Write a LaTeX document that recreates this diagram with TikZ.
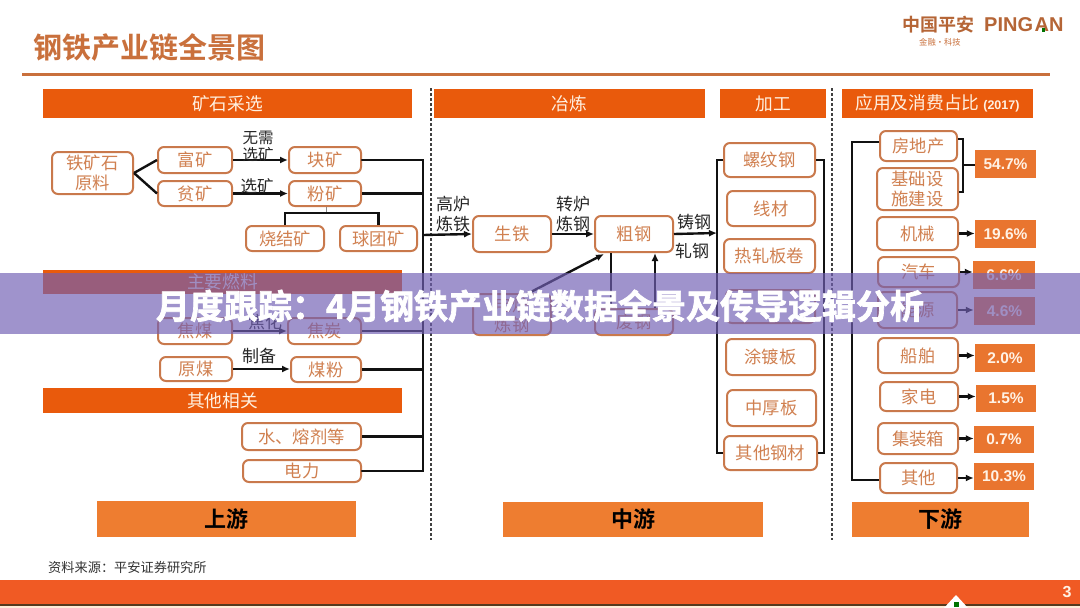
\documentclass[tikz,border=0pt]{standalone}
\usepackage{fontspec}
\setmainfont{Noto Sans CJK SC}[BoldFont=* Bold]
\newfontfamily\banf{Noto Sans CJK SC Bold}[FakeBold=2]
\newfontfamily\latinb{Liberation Sans}
\usetikzlibrary{arrows.meta}
\definecolor{hdr}{HTML}{E95A0C}
\definecolor{edgeb}{HTML}{C9794C}
\definecolor{txto}{HTML}{D08050}
\definecolor{stream}{HTML}{EE7D30}
\definecolor{pct}{HTML}{E9752F}
\definecolor{rulec}{HTML}{C9703C}
\definecolor{barc}{HTML}{F05A24}
\definecolor{bandc}{RGB}{113,95,180}
\definecolor{linec}{HTML}{111111}
\tikzset{
 x=1pt,y=-1pt,
 boxn/.style={draw=edgeb,line width=2pt,rounded corners=6pt,fill=white,text=txto,font=\fontsize{17.3}{20}\selectfont,align=center,inner sep=0pt},
 hdrn/.style={fill=hdr,text=white!88!orange,font=\fontsize{17.7}{20}\selectfont,inner sep=0pt},
 strm/.style={fill=stream,text=black,font=\fontsize{22}{24}\bfseries\selectfont,inner sep=0pt},
 pctn/.style={fill=pct,text=white!90!orange,font=\latinb\fontsize{15.5}{18}\bfseries\selectfont,inner sep=0pt},
 lab/.style={text=black!85,font=\fontsize{17}{20}\selectfont,align=center,inner sep=0pt},
 conn/.style={draw=linec,line width=2.4pt},
 arr/.style={conn,-{Latex[length=8pt,width=7pt]}},
 thinc/.style={draw=linec,line width=2.2pt},
 dashv/.style={draw=black!75,line width=1.2pt,dash pattern=on 3pt off 2pt},
}
\newcommand\bx[7][boxn]{\node[#1,minimum width={(#5-#3)*1pt},minimum height={(#6-#4)*1pt}] (#2) at ({(#3+#5)/2},{(#4+#6)/2}) {#7};}
\begin{document}
\begin{tikzpicture}
\useasboundingbox (0,0) rectangle (1080,608);
\fill[white] (0,0) rectangle (1080,608);
% top
\node[text=rulec,font=\fontsize{29}{31}\bfseries\selectfont,anchor=west,inner sep=0pt] (title) at (33,48) {钢铁产业链全景图};
\coordinate (rl) at (22,74); \coordinate (rr) at (1050,74);
\draw[rulec,line width=3pt] (rl) -- (rr);
\node[text=rulec!90!black,font=\fontsize{18}{20}\bfseries\selectfont,anchor=west,inner sep=0pt] (lg1) at (902,25) {中国平安};
\node[text=rulec!90!black,font=\latinb\fontsize{20}{22}\bfseries\selectfont,anchor=west,inner sep=0pt] (lg2) at (984,25) {PING\kern1.5pt AN};
\fill[green!45!black] (1041.5,28) rectangle (1044.5,32);
\node[text=rulec,font=\fontsize{8.3}{9}\selectfont,anchor=west,inner sep=0pt] (lg3) at (919,42) {金融·科技};
% dashed separators
\coordinate (d1t) at (431,88); \coordinate (d1b) at (431,540);
\coordinate (d2t) at (832,88); \coordinate (d2b) at (832,540);
\draw[dashv] (d1t) -- (d1b);
\draw[dashv] (d2t) -- (d2b);
% headers
\bx[hdrn]{h1}{43}{89}{412}{118}{矿石采选}
\bx[hdrn]{h2}{43}{270}{402}{294}{主要燃料}
\bx[hdrn]{h3}{43}{388}{402}{413}{其他相关}
\bx[hdrn]{h4}{434}{89}{705}{118}{冶炼}
\bx[hdrn]{h5}{720}{89}{826}{118}{加工}
\node[hdrn,minimum width=191pt,minimum height=29pt] (h6) at (937.5,103.5) {应用及消费占比 {\latinb\fontsize{12.5}{14}\bfseries\selectfont (2017)}};
% upstream boxes
\bx{ore}{52}{152}{133}{194}{铁矿石\\原料}
\bx{rich}{158}{147}{232}{173}{富矿}
\bx{poor}{158}{181}{232}{206}{贫矿}
\bx{lump}{289}{147}{361}{173}{块矿}
\bx{fines}{289}{181}{361}{206}{粉矿}
\bx{sinter}{246}{226}{324}{251}{烧结矿}
\bx{pellet}{340}{226}{417}{251}{球团矿}
\bx{ccoal}{158}{318}{232}{344}{焦煤}
\bx{coke}{288}{318}{361}{344}{焦炭}
\bx{rcoal}{160}{357}{232}{381}{原煤}
\bx{pcoal}{291}{357}{361}{382}{煤粉}
\bx{water}{242}{423}{361}{450}{水、熔剂等}
\bx{power}{243}{460}{361}{482}{电力}
% upstream connectors
\draw[conn] (ore.east) -- (rich.west);
\draw[conn] (ore.east) -- (poor.west);
\draw[arr] (rich.east) -- (rich.east -| lump.west);
\draw[arr] (poor.east) -- (poor.east -| fines.west);
\draw[arr,line width=2pt] (ccoal.east) -- (ccoal.east -| coke.west);
\draw[arr,line width=2pt] (rcoal.east) -- (rcoal.east -| pcoal.west);
\coordinate (fj) at (326,213);
\draw[draw=black!45,line width=1pt] (fj |- fines.south) -- (fj);
\draw[thinc] (sinter.north) |- (fj) -| (pellet.north);
\node[lab,font=\fontsize{15.5}{17}\selectfont] (l1) at (258,146) {无需\\选矿};
\node[lab,font=\fontsize{16.5}{18}\selectfont] (l2) at (257,186) {选矿};
\node[lab] (l3) at (265,322) {焦化};
\node[lab] (l4) at (259,356) {制备};
% bus
\coordinate (bt) at (423,160); \coordinate (bb) at (423,471); \coordinate (bm) at (423,235);
\draw[conn,line cap=round] (lump.east) -- (bt) -- (bb) -- (power.east);
\draw[conn] (fines.east) -- (fines.east -| bt);
\draw[conn] (coke.east) -- (coke.east -| bt);
\draw[thinc] (pcoal.east) -- (pcoal.east -| bt);
\draw[thinc] (water.east) -- (water.east -| bt);
% midstream
\bx{iron}{473}{216}{551}{252}{生铁}
\bx{steel}{595}{216}{673}{252}{粗钢}
\bx{eaf}{473}{294}{551}{335}{电炉\\炼钢}
\bx{scrap}{595}{309}{673}{335}{废钢}
\draw[arr] (bm) -- (iron.west);
\draw[arr] (iron.east) -- (steel.west);
\coordinate (ea) at (527,294); \coordinate (eb) at (604,254);
\draw[arr] (ea) -- (eb);
\coordinate (v1) at (611,0); \coordinate (v2) at (655,0);
\draw[conn] (scrap.north -| v1) -- (steel.south -| v1);
\draw[arr] (scrap.north -| v2) -- (steel.south -| v2);
\node[lab] (l5) at (453,214) {高炉\\炼铁};
\node[lab] (l6) at (573,214) {转炉\\炼钢};
\node[lab] (l7) at (694,222) {铸钢};
\node[lab] (l8) at (692,251) {轧钢};
\bx{rebar}{724}{143}{815}{177}{螺纹钢}
\bx{wire}{727}{191}{815}{226}{线材}
\bx{hrc}{724}{239}{815}{273}{热轧板卷}
\bx{crc}{726}{290}{815}{323}{}
\bx{coat}{726}{339}{815}{375}{涂镀板}
\bx{plate}{727}{390}{816}{426}{中厚板}
\bx{oth}{724}{436}{817}{470}{其他钢材}
\coordinate (mb) at (717,233);
\draw[arr] (steel.east) -- (mb);
\coordinate (lt) at (717,160); \coordinate (lb) at (717,453);
\coordinate (rt) at (824,160); \coordinate (rb) at (824,453);
\draw[conn] (rebar.west) -- (lt) -- (lb) -- (oth.west);
\draw[conn] (rebar.east) -- (rt) -- (rb) -- (oth.east);
% downstream
\coordinate (dt) at (852,142); \coordinate (db) at (852,480);
\coordinate (bk1) at (963,139); \coordinate (bk2) at (963,192); \coordinate (bk3) at (963,165);
\draw[conn] (880,142) -- (dt) -- (db) -- (880,480);
\bx{re}{880}{131}{957}{161}{房地产}
\bx{infra}{877}{168}{958}{210}{基础设\\施建设}
\bx{mach}{877}{217}{958}{250}{机械}
\bx{auto}{878}{257}{959}{287}{汽车}
\bx{ener}{878}{292}{957}{328}{能源}
\bx{ship}{878}{338}{958}{373}{船舶}
\bx{appl}{880}{382}{958}{411}{家电}
\bx{cont}{878}{423}{958}{454}{集装箱}
\bx{dot}{880}{463}{957}{493}{其他}
\bx[pctn]{p1}{975}{150}{1036}{178}{54.7\%}
\bx[pctn]{p2}{975}{220}{1036}{248}{19.6\%}
\bx[pctn]{p3}{973}{261}{1035}{289}{6.6\%}
\bx[pctn]{p4}{974}{297}{1035}{325}{4.6\%}
\bx[pctn]{p5}{975}{344}{1035}{372}{2.0\%}
\bx[pctn]{p6}{976}{385}{1036}{412}{1.5\%}
\bx[pctn]{p7}{974}{426}{1034}{453}{0.7\%}
\bx[pctn]{p8}{974}{463}{1034}{490}{10.3\%}
\draw[conn] (re.east |- bk1) -- (bk1) -- (bk2) -- (infra.east |- bk2);
\draw[conn] (bk3) -- (bk3 -| p1.west);
\draw[arr] (mach.east) -- (mach.east -| p2.west);
\draw[arr] (auto.east) -- (auto.east -| p3.west);
\draw[arr] (ener.east) -- (ener.east -| p4.west);
\draw[arr] (ship.east) -- (ship.east -| p5.west);
\draw[arr] (appl.east) -- (appl.east -| p6.west);
\draw[arr] (cont.east) -- (cont.east -| p7.west);
\draw[arr] (dot.east) -- (dot.east -| p8.west);
% stream bars
\bx[strm]{s1}{97}{501}{356}{537}{上游}
\bx[strm]{s2}{503}{502}{763}{537}{中游}
\bx[strm]{s3}{852}{502}{1029}{537}{下游}
% footer
\node[text=black!80,font=\fontsize{13.2}{15}\selectfont,anchor=west,inner sep=0pt] (src) at (48,567) {资料来源：平安证券研究所};
\fill[barc] (0,580) rectangle (1080,604);
\fill[black!55!brown] (0,604) rectangle (1080,605.5);
\fill[white!85!orange] (0,605.5) rectangle (1080,608);
\fill[white] (956,595) -- (968,608) -- (944,608) -- cycle;
\fill[green!45!black] (953.5,602) rectangle (958.5,607);
\node[text=white!90!orange,font=\latinb\fontsize{16}{18}\bfseries\selectfont,inner sep=0pt] (pg) at (1067,592) {3};
% overlay band
\fill[bandc,opacity=.67] (0,273) rectangle (1080,334);
\node[text=white,font=\banf\fontsize{34}{36}\selectfont,anchor=center,inner sep=0pt] (ban) at (540,306) {月度跟踪：4月钢铁产业链数据全景及传导逻辑分析};
\end{tikzpicture}
\end{document}
